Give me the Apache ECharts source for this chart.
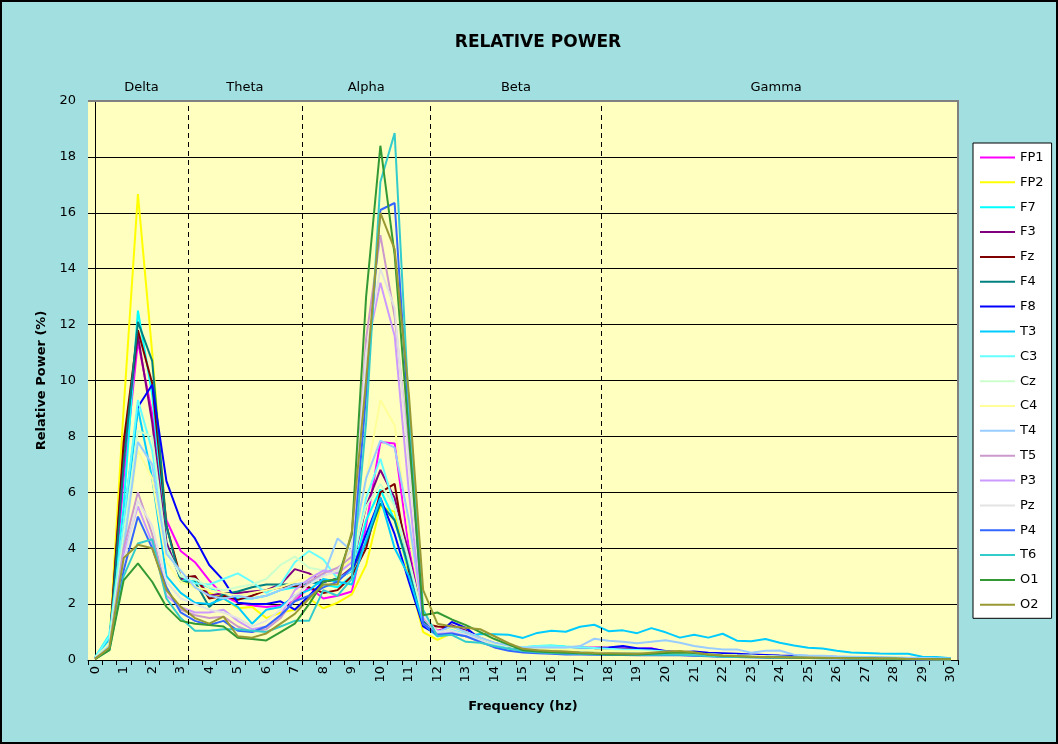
<!DOCTYPE html>
<html>
<head>
<meta charset="utf-8">
<title>Relative Power</title>
<script src="https://cdn.jsdelivr.net/npm/echarts@6/dist/echarts.min.js"></script>
<style>
  html, body { margin: 0; padding: 0; background: #A2DFE0; }
  #chart { width: 1058px; height: 744px; }
</style>
</head>
<body>
<div id="chart"></div>
<script>
// Frequency bins (Hz)
const freqHz = [0, 0.5, 1, 1.5, 2, 2.5, 3, 3.5, 4, 4.5, 5, 5.5, 6, 6.5, 7, 7.5, 8, 8.5, 9, 9.5,
  10, 10.5, 11, 11.5, 12, 12.5, 13, 13.5, 14, 14.5, 15, 15.5, 16, 16.5, 17, 17.5, 18, 18.5, 19, 19.5,
  20, 20.5, 21, 21.5, 22, 22.5, 23, 23.5, 24, 24.5, 25, 25.5, 26, 26.5, 27, 27.5, 28, 28.5, 29, 29.5, 30];

// EEG bands and the boundaries between them (Hz)
const bandNames = ['Delta', 'Theta', 'Alpha', 'Beta', 'Gamma'];
const bandEdgesHz = [0, 3.25, 7.25, 11.75, 17.75, 30];

// Electrode channels
const channels = ['FP1', 'FP2', 'F7', 'F3', 'Fz', 'F4', 'F8', 'T3', 'C3', 'Cz',
  'C4', 'T4', 'T5', 'P3', 'Pz', 'P4', 'T6', 'O1', 'O2'];

// Relative power (%) per channel, one value per frequency bin
const FP1 = [0.05, 0.45, 6.5, 11.4, 8.8, 5.0, 3.9,
  3.5, 2.85, 2.3, 2.05, 1.95, 1.9, 1.95, 2.1,
  2.6, 2.2, 2.3, 2.45, 4.8, 7.8, 7.75, 4.0, 1.5,
  1.05, 1.2, 1.0, 0.75, 0.6, 0.5, 0.42, 0.45, 0.44, 0.42, 0.43, 0.45,
  0.44, 0.42, 0.4, 0.42, 0.3, 0.25, 0.22, 0.18, 0.16, 0.15, 0.13, 0.12, 0.11,
  0.1, 0.1, 0.09, 0.08, 0.08, 0.07, 0.06, 0.06, 0.05, 0.05, 0.04, 0.04];
const FP2 = [0.08, 0.6, 9.0, 16.67, 11.0, 4.8, 2.9,
  2.6, 2.4, 2.2, 1.85, 1.9, 1.5, 1.7, 1.8,
  2.2, 1.85, 2.05, 2.35, 3.4, 5.5, 5.3, 3.0, 1.0,
  0.72, 0.95, 0.85, 0.7, 0.55, 0.45, 0.35, 0.3, 0.28, 0.27, 0.25, 0.24,
  0.22, 0.22, 0.2, 0.22, 0.28, 0.3, 0.25, 0.2, 0.15, 0.13, 0.12, 0.1, 0.1,
  0.09, 0.08, 0.08, 0.07, 0.06, 0.06, 0.05, 0.05, 0.04, 0.04, 0.03, 0.03];
const F7 = [0.1, 0.9, 5.5, 12.5, 9.5, 4.2, 2.9,
  2.8, 2.6, 2.3, 2.2, 2.2, 2.3, 2.5, 2.6,
  2.8, 2.7, 2.6, 3.0, 5.0, 6.1, 5.0, 3.2, 1.4,
  0.9, 1.1, 0.95, 0.7, 0.55, 0.45, 0.45, 0.5, 0.52, 0.48, 0.45, 0.42,
  0.4, 0.4, 0.38, 0.36, 0.3, 0.25, 0.22, 0.2, 0.18, 0.16, 0.14, 0.13, 0.12,
  0.11, 0.1, 0.09, 0.08, 0.08, 0.07, 0.06, 0.06, 0.05, 0.05, 0.04, 0.04];
const F3 = [0.05, 0.5, 7.5, 11.6, 8.5, 4.2, 2.9,
  3.0, 2.3, 2.4, 2.4, 2.45, 2.5, 2.7, 3.25,
  3.1, 2.8, 2.9, 3.3, 5.5, 6.8, 5.8, 3.8, 1.4,
  1.0, 1.25, 1.05, 0.8, 0.6, 0.5, 0.42, 0.4, 0.42, 0.4, 0.41, 0.42,
  0.42, 0.4, 0.4, 0.38, 0.28, 0.24, 0.2, 0.18, 0.16, 0.14, 0.13, 0.12, 0.11,
  0.1, 0.09, 0.08, 0.08, 0.07, 0.06, 0.06, 0.05, 0.05, 0.04, 0.04, 0.03];
const Fz = [0.05, 0.45, 7.8, 11.8, 9.9, 4.8, 2.95,
  3.0, 2.2, 2.3, 2.15, 2.3, 2.5, 2.6, 2.65,
  2.6, 2.4, 2.5, 3.0, 4.0, 6.0, 6.3, 3.2, 1.3,
  1.2, 1.15, 1.0, 0.78, 0.6, 0.48, 0.4, 0.38, 0.36, 0.35, 0.36, 0.38,
  0.38, 0.36, 0.35, 0.33, 0.26, 0.22, 0.2, 0.17, 0.15, 0.14, 0.12, 0.11, 0.1,
  0.09, 0.09, 0.08, 0.07, 0.07, 0.06, 0.05, 0.05, 0.05, 0.04, 0.04, 0.03];
const F4 = [0.06, 0.5, 7.0, 12.1, 10.7, 4.8, 2.8,
  2.8, 1.9, 2.35, 2.45, 2.6, 2.7, 2.7, 2.7,
  2.75, 2.8, 2.9, 3.2, 4.2, 5.6, 5.0, 3.3, 1.4,
  1.0, 1.1, 1.0, 0.75, 0.55, 0.42, 0.35, 0.32, 0.3, 0.3, 0.28, 0.27,
  0.26, 0.25, 0.24, 0.23, 0.24, 0.26, 0.22, 0.18, 0.15, 0.13, 0.12, 0.11, 0.1,
  0.09, 0.08, 0.08, 0.07, 0.06, 0.06, 0.05, 0.05, 0.04, 0.04, 0.03, 0.03];
const F8 = [0.05, 0.4, 5.0, 9.05, 9.85, 6.4, 5.0,
  4.35, 3.4, 2.85, 2.05, 2.0, 2.0, 2.1, 1.8,
  2.3, 2.8, 2.9, 3.2, 4.5, 5.8, 4.5, 2.8, 1.2,
  0.9, 1.36, 1.15, 0.75, 0.6, 0.5, 0.42, 0.4, 0.42, 0.4, 0.44, 0.43,
  0.45, 0.5, 0.42, 0.4, 0.32, 0.28, 0.3, 0.26, 0.24, 0.22, 0.2, 0.18, 0.16,
  0.15, 0.14, 0.13, 0.11, 0.1, 0.09, 0.08, 0.07, 0.06, 0.06, 0.05, 0.04];
const T3 = [0.1, 0.75, 4.5, 9.0, 6.5, 3.0, 2.4,
  2.05, 2.0, 2.2, 1.9, 1.3, 1.8, 1.9, 2.3,
  2.5, 2.9, 2.8, 2.7, 4.3, 5.8, 4.0, 3.0, 1.3,
  0.85, 0.95, 0.85, 0.93, 0.92, 0.9, 0.79, 0.97, 1.05, 1.01, 1.19, 1.26,
  1.03, 1.06, 0.96, 1.14, 0.99, 0.8, 0.9, 0.8, 0.94, 0.69, 0.67, 0.75, 0.62,
  0.52, 0.44, 0.41, 0.33, 0.27, 0.25, 0.23, 0.22, 0.22, 0.12, 0.11, 0.06];
const C3 = [0.1, 0.85, 5.0, 9.3, 7.5, 4.0, 3.0,
  2.75, 2.7, 2.9, 3.1, 2.8, 2.4, 2.7, 3.5,
  3.9, 3.6, 2.9, 3.2, 5.8, 7.2, 5.5, 3.5, 1.5,
  0.95, 1.1, 0.95, 0.75, 0.55, 0.48, 0.46, 0.5, 0.5, 0.47, 0.45, 0.43,
  0.4, 0.38, 0.36, 0.34, 0.3, 0.26, 0.23, 0.2, 0.18, 0.16, 0.15, 0.13, 0.12,
  0.11, 0.1, 0.09, 0.08, 0.07, 0.07, 0.06, 0.05, 0.05, 0.04, 0.04, 0.03];
const Cz = [0.08, 0.6, 4.5, 8.2, 8.0, 4.0, 3.0,
  2.9, 2.6, 2.5, 2.6, 2.7, 2.9, 3.4, 3.7,
  3.3, 3.2, 3.2, 3.6, 5.5, 6.3, 5.5, 3.6, 1.5,
  1.0, 1.15, 1.0, 0.78, 0.6, 0.5, 0.45, 0.44, 0.42, 0.4, 0.38, 0.36,
  0.35, 0.33, 0.32, 0.3, 0.28, 0.25, 0.22, 0.2, 0.18, 0.16, 0.15, 0.13, 0.12,
  0.11, 0.1, 0.09, 0.08, 0.08, 0.07, 0.06, 0.06, 0.05, 0.05, 0.04, 0.04];
const C4 = [0.07, 0.55, 4.0, 7.5, 6.5, 3.5, 2.8,
  2.6, 2.5, 2.4, 2.3, 2.4, 2.5, 2.6, 2.8,
  3.0, 3.1, 3.2, 3.6, 6.5, 9.3, 8.4, 4.5, 1.6,
  1.0, 1.15, 1.0, 0.8, 0.6, 0.5, 0.42, 0.4, 0.38, 0.36, 0.34, 0.33,
  0.32, 0.3, 0.3, 0.28, 0.26, 0.24, 0.22, 0.2, 0.18, 0.16, 0.15, 0.13, 0.12,
  0.11, 0.1, 0.09, 0.08, 0.08, 0.07, 0.06, 0.06, 0.05, 0.05, 0.04, 0.04];
const T4 = [0.06, 0.5, 4.0, 7.8, 7.0, 3.8, 3.2,
  2.6, 2.3, 2.2, 2.3, 2.2, 2.3, 2.5, 2.7,
  2.8, 3.0, 4.35, 3.9, 6.5, 7.85, 7.6, 5.0, 1.6,
  1.0, 1.2, 1.0, 0.8, 0.62, 0.52, 0.45, 0.45, 0.45, 0.45, 0.5, 0.76,
  0.69, 0.65, 0.6, 0.65, 0.71, 0.62, 0.5, 0.43, 0.38, 0.38, 0.26, 0.33, 0.34,
  0.19, 0.16, 0.15, 0.13, 0.12, 0.11, 0.1, 0.09, 0.08, 0.07, 0.06, 0.05];
const T5 = [0.05, 0.4, 4.0, 6.0, 4.5, 2.5, 1.8,
  1.6, 1.5, 1.55, 1.2, 1.0, 1.1, 1.5, 2.2,
  2.8, 3.1, 3.3, 3.7, 11.5, 15.2, 12.3, 7.5, 1.5,
  1.0, 1.0, 0.9, 0.7, 0.5, 0.38, 0.3, 0.28, 0.26, 0.25, 0.24, 0.23,
  0.22, 0.21, 0.2, 0.2, 0.2, 0.19, 0.17, 0.15, 0.13, 0.12, 0.11, 0.1, 0.09,
  0.08, 0.08, 0.07, 0.06, 0.06, 0.05, 0.05, 0.04, 0.04, 0.03, 0.03, 0.03];
const P3 = [0.05, 0.4, 3.8, 5.5, 4.2, 2.3, 1.9,
  1.7, 1.7, 1.8, 1.4, 1.1, 1.2, 1.6, 2.5,
  2.9, 3.2, 3.1, 3.5, 11.0, 13.5, 11.6, 6.0, 1.3,
  0.95, 1.0, 0.85, 0.65, 0.48, 0.36, 0.3, 0.27, 0.25, 0.24, 0.23, 0.22,
  0.21, 0.2, 0.2, 0.19, 0.19, 0.18, 0.16, 0.14, 0.13, 0.12, 0.11, 0.1, 0.09,
  0.08, 0.08, 0.07, 0.06, 0.06, 0.05, 0.05, 0.04, 0.04, 0.03, 0.03, 0.03];
const Pz = [0.05, 0.45, 3.5, 5.7, 4.8, 2.8, 2.2,
  2.0, 1.8, 1.7, 1.5, 1.2, 1.4, 1.8, 2.3,
  2.7, 3.0, 3.2, 4.0, 11.0, 14.0, 12.6, 7.0, 1.6,
  1.0, 1.05, 0.9, 0.7, 0.52, 0.4, 0.33, 0.3, 0.28, 0.27, 0.26, 0.25,
  0.24, 0.23, 0.22, 0.22, 0.21, 0.2, 0.18, 0.16, 0.14, 0.13, 0.12, 0.11, 0.1,
  0.09, 0.08, 0.08, 0.07, 0.06, 0.06, 0.05, 0.05, 0.04, 0.04, 0.03, 0.03];
const P4 = [0.05, 0.4, 3.2, 5.13, 4.0, 2.6, 1.7,
  1.4, 1.25, 1.4, 1.05, 1.0, 1.2, 1.6, 2.1,
  2.3, 2.6, 2.8, 3.3, 9.5, 16.1, 16.35, 8.5, 1.3,
  0.9, 0.95, 0.85, 0.65, 0.45, 0.33, 0.27, 0.24, 0.22, 0.2, 0.2, 0.19,
  0.18, 0.18, 0.17, 0.17, 0.18, 0.17, 0.15, 0.13, 0.12, 0.11, 0.1, 0.09, 0.08,
  0.08, 0.07, 0.06, 0.06, 0.05, 0.05, 0.04, 0.04, 0.03, 0.03, 0.03, 0.02];
const T6 = [0.05, 0.35, 3.0, 4.17, 4.32, 2.2, 1.5,
  1.05, 1.05, 1.1, 1.1, 1.05, 1.0, 1.2, 1.4,
  1.4, 2.5, 2.3, 2.9, 8.5, 17.1, 18.85, 9.0, 1.8,
  0.85, 0.9, 0.65, 0.62, 0.5, 0.4, 0.32, 0.28, 0.25, 0.23, 0.22, 0.21,
  0.2, 0.2, 0.19, 0.19, 0.2, 0.19, 0.17, 0.14, 0.12, 0.11, 0.1, 0.09, 0.08,
  0.08, 0.07, 0.06, 0.06, 0.05, 0.05, 0.04, 0.04, 0.03, 0.03, 0.03, 0.02];
const O1 = [0.03, 0.35, 2.85, 3.46, 2.8, 1.9, 1.4,
  1.3, 1.25, 1.2, 0.8, 0.75, 0.7, 1.0, 1.3,
  2.0, 2.8, 2.9, 4.5, 13.0, 18.4, 14.5, 8.0, 1.6,
  1.7, 1.45, 1.25, 1.0, 0.75, 0.55, 0.35, 0.3, 0.28, 0.26, 0.24, 0.22,
  0.2, 0.2, 0.2, 0.22, 0.25, 0.27, 0.25, 0.2, 0.15, 0.13, 0.12, 0.1, 0.1,
  0.09, 0.08, 0.07, 0.07, 0.06, 0.06, 0.05, 0.05, 0.04, 0.04, 0.03, 0.03];
const O2 = [0.04, 0.45, 3.65, 4.12, 4.0, 2.5, 1.9,
  1.5, 1.3, 1.55, 0.85, 0.8, 0.95, 1.3, 1.65,
  2.2, 2.7, 2.7, 4.6, 10.0, 16.0, 14.7, 9.5, 2.5,
  1.3, 1.2, 1.15, 1.1, 0.85, 0.6, 0.4, 0.35, 0.32, 0.3, 0.27, 0.25,
  0.24, 0.23, 0.22, 0.26, 0.3, 0.32, 0.28, 0.2, 0.16, 0.14, 0.12, 0.11, 0.1,
  0.09, 0.08, 0.08, 0.07, 0.06, 0.06, 0.05, 0.05, 0.04, 0.04, 0.03, 0.03];

const channelValues = [FP1, FP2, F7, F3, Fz, F4, F8, T3, C3, Cz, C4, T4, T5, P3, Pz, P4, T6, O1, O2];

const channelColors = ['#FF00FF', '#FFFF00', '#00FFFF', '#800080', '#800000', '#008080', '#0000FF',
  '#00CCFF', '#66FFFF', '#CCFFCC', '#FFFF99', '#99CCFF', '#CC99CC', '#CC99FF', '#E3E3E3',
  '#3366FF', '#33CCCC', '#339933', '#999933'];

const FONT = '"DejaVu Sans", Verdana, sans-serif';
const GRID = { left: 88, top: 101, right: 100, bottom: 84 };
const W = 1058, H = 744;

const chart = echarts.init(document.getElementById('chart'), null, { renderer: 'canvas' });

const channelSeries = channels.map((name, k) => ({
  name: name,
  type: 'line',
  xAxisIndex: 0,
  yAxisIndex: 0,
  data: channelValues[k],
  symbol: 'none',
  showSymbol: false,
  smooth: false,
  lineStyle: { width: 2, color: channelColors[k] },
  itemStyle: { color: channelColors[k] },
  emphasis: { disabled: true },
  animation: false
}));

// Band dividers and band titles on a hidden continuous frequency axis
const bandSeries = {
  name: 'bands',
  type: 'line',
  xAxisIndex: 1,
  yAxisIndex: 0,
  data: [],
  silent: true,
  animation: false,
  markLine: {
    silent: true,
    symbol: 'none',
    animation: false,
    label: { show: false },
    lineStyle: { color: '#000', type: [5, 4], width: 1 },
    data: bandEdgesHz.slice(1, -1).map(x => ({ xAxis: x }))
  },
  markArea: {
    silent: true,
    animation: false,
    itemStyle: { color: 'rgba(0,0,0,0)' },
    label: { show: true, position: 'top', distance: 7, color: '#000', fontSize: 13, fontFamily: FONT },
    data: bandNames.map((n, k) => [{ name: n, xAxis: bandEdgesHz[k] }, { xAxis: bandEdgesHz[k + 1] }])
  }
};

const option = {
  backgroundColor: '#A2DFE0',
  animation: false,
  textStyle: { fontFamily: FONT, color: '#000' },
  title: {
    text: 'RELATIVE POWER',
    left: 533,
    textAlign: 'center',
    top: 29,
    textStyle: { fontFamily: FONT, fontSize: 17, fontWeight: 'bold', color: '#000' }
  },
  legend: {
    orient: 'vertical',
    left: 973,
    top: 143,
    data: channels,
    itemWidth: 35,
    itemHeight: 14,
    itemGap: 11.85,
    padding: [8, 8, 7, 6],
    backgroundColor: '#FFFFFF',
    borderColor: '#000000',
    borderWidth: 1,
    borderRadius: 0,
    selectedMode: false,
    itemStyle: { opacity: 0 },
    lineStyle: { width: 2 },
    textStyle: { fontFamily: FONT, fontSize: 13, color: '#000', padding: [0, 0, 0, 0] }
  },
  grid: {
    left: GRID.left, top: GRID.top, right: GRID.right, bottom: GRID.bottom,
    show: true,
    backgroundColor: '#FFFFC0',
    borderWidth: 0
  },
  xAxis: [
    {
      type: 'category',
      data: freqHz.map(String),
      boundaryGap: true,
      name: 'Frequency (hz)',
      nameLocation: 'middle',
      nameGap: 40,
      nameTextStyle: { fontFamily: FONT, fontSize: 13, fontWeight: 'bold', color: '#000' },
      axisLine: { show: true, lineStyle: { color: '#000', width: 1 } },
      axisTick: { show: true, interval: 0, length: 5, inside: false, lineStyle: { color: '#000' } },
      axisLabel: { interval: 1, rotate: 90, margin: 6, fontSize: 13, fontFamily: FONT, color: '#000' },
      splitLine: { show: false }
    },
    {
      type: 'value',
      min: -0.25,
      max: 30.25,
      show: false,
      splitLine: { show: false }
    }
  ],
  yAxis: {
    type: 'value',
    min: 0,
    max: 20,
    interval: 2,
    name: 'Relative Power (%)',
    nameLocation: 'middle',
    nameGap: 40,
    nameTextStyle: { fontFamily: FONT, fontSize: 13, fontWeight: 'bold', color: '#000' },
    axisLine: { show: true, lineStyle: { color: '#000', width: 1 } },
    axisTick: { show: true, length: 5, inside: false, lineStyle: { color: '#000' } },
    axisLabel: { margin: 12, fontSize: 13, fontFamily: FONT, color: '#000' },
    splitLine: { show: true, lineStyle: { color: '#000', width: 1 } }
  },
  graphic: [
    {
      // plot-area frame along the top and right edges
      type: 'polyline',
      z: 100,
      silent: true,
      shape: { points: [[GRID.left, GRID.top], [W - GRID.right, GRID.top], [W - GRID.right, H - GRID.bottom]] },
      style: { stroke: '#808080', lineWidth: 2, fill: null }
    },
    {
      // chart frame
      type: 'rect',
      z: 100,
      silent: true,
      shape: { x: 1, y: 1, width: W - 2, height: H - 2 },
      style: { stroke: '#000', lineWidth: 2, fill: null }
    }
  ],
  series: channelSeries.concat([bandSeries])
};

chart.setOption(option);
</script>
</body>
</html>
